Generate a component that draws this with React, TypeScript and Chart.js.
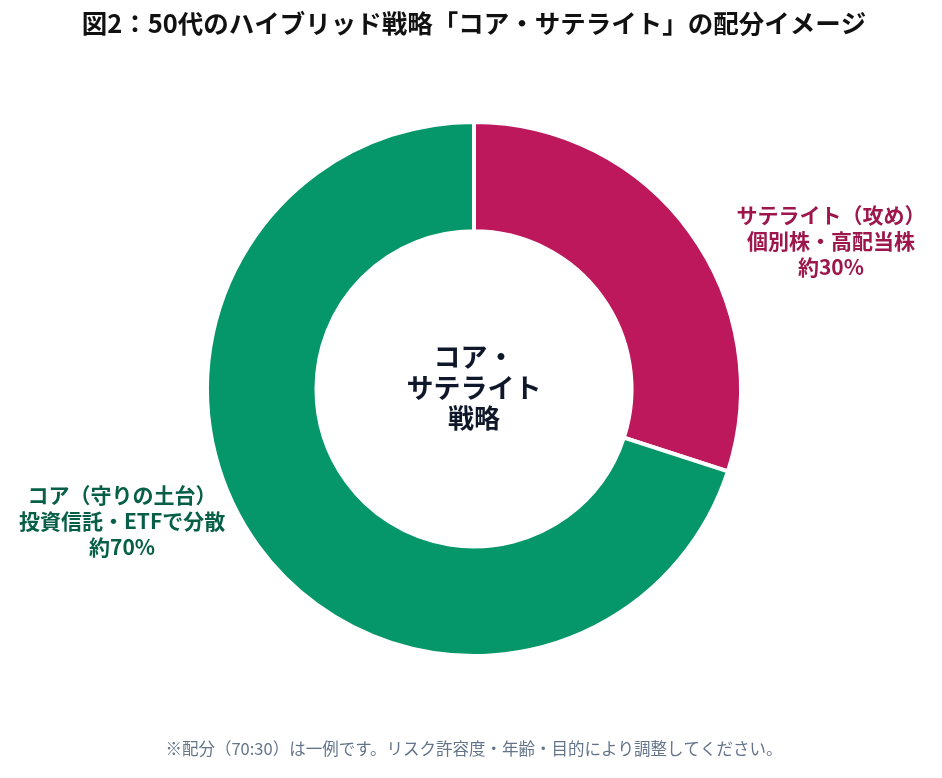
import React, { useEffect, useRef } from "react";
import { Chart, registerables } from "chart.js";

Chart.register(...registerables);

const categories = ["サテライト（攻め）", "コア（守りの土台）"];
const values = [30, 70];
const colors = ["#be185d", "#059669"];
const labelColors = ["#9d174d", "#065f46"];
const outerLabels = [
  ["サテライト（攻め）", "個別株・高配当株", "約30%"],
  ["コア（守りの土台）", "投資信託・ETFで分散", "約70%"],
];
const centerLines = ["コア・", "サテライト", "戦略"];
const titleText = "図2：50代のハイブリッド戦略「コア・サテライト」の配分イメージ";
const footnote = "※配分（70:30）は一例です。リスク許容度・年齢・目的により調整してください。";

const FONT = "'Noto Sans CJK JP', 'Noto Sans', sans-serif";

const labelsPlugin = {
  id: "customLabels",
  afterDraw(chart: any) {
    const ctx = chart.ctx;
    const meta = chart.getDatasetMeta(0);
    const arcs = meta.data;
    if (!arcs.length) return;
    const { x: cx, y: cy } = arcs[0];
    ctx.save();
    ctx.textAlign = "center";
    ctx.textBaseline = "middle";
    ctx.fillStyle = "#0f172a";
    ctx.font = `bold 27px ${FONT}`;
    ctx.fillText(centerLines[0], cx, cy - 32);
    ctx.fillText(centerLines[1], cx, cy - 1);
    ctx.font = `bold 26px ${FONT}`;
    ctx.fillText(centerLines[2], cx, cy + 29);
    arcs.forEach((arc: any, i: number) => {
      const mid = (arc.startAngle + arc.endAngle) / 2;
      const c = Math.cos(mid);
      const lx = cx + c * 435 + (c > 0 ? 5 : 0);
      const ly = cy + Math.sin(mid) * 240;
      const lines = outerLabels[i];
      ctx.fillStyle = labelColors[i];
      ctx.font = `bold 21px ${FONT}`;
      const lh = 26;
      const top = ly - lh * (lines.length - 1) / 2 + (i === 0 ? -7 : -9);
      lines.forEach((t, j) => ctx.fillText(t, lx, top + j * lh));
    });
    ctx.restore();
  },
};

export default function App() {
  const ref = useRef<HTMLCanvasElement>(null);
  useEffect(() => {
    if (!ref.current) return;
    const chart = new Chart(ref.current, {
      type: "doughnut",
      data: {
        labels: categories,
        datasets: [
          {
            data: values,
            backgroundColor: colors,
            borderColor: "#ffffff",
            borderWidth: 4,
            hoverOffset: 0,
          },
        ],
      },
      options: {
        animation: false,
        responsive: true,
        maintainAspectRatio: false,
        radius: 267,
        cutout: "59%",
        layout: { padding: { left: 6, right: 0, top: 0, bottom: 4 } },
        plugins: {
          legend: { display: false },
          tooltip: { enabled: false },
          title: {
            display: true,
            text: titleText,
            color: "#111111",
            font: { family: FONT, size: 25.5, weight: "bold" },
            padding: { top: 0, bottom: 10 },
          },
          subtitle: {
            display: true,
            position: "bottom",
            text: footnote,
            color: "#64748b",
            font: { family: FONT, size: 16.5, weight: "normal" },
            padding: { top: 10, bottom: 7 },
          },
        },
      },
      plugins: [labelsPlugin],
    });
    return () => chart.destroy();
  }, []);
  return (
    <div style={{ width: 926, height: 762 }}>
      <canvas ref={ref} />
    </div>
  );
}
